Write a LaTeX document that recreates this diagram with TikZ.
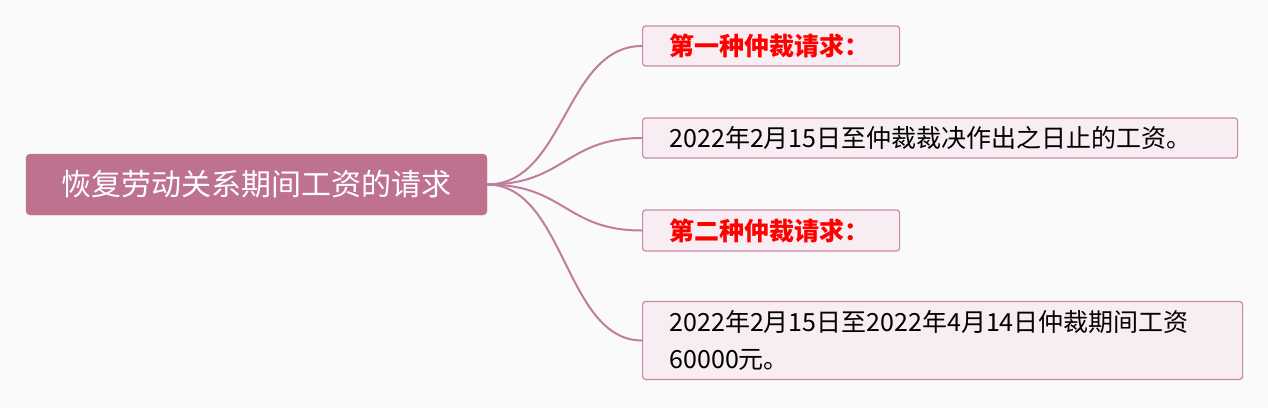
\documentclass[tikz,border=0pt]{standalone}
\usepackage{fontspec}
\usetikzlibrary{calc}
\newfontfamily\cjk{Noto Sans CJK SC}
\definecolor{bgc}{HTML}{FAFAFA}
\definecolor{rootfill}{HTML}{BF7190}
\definecolor{boxfill}{HTML}{F7EDF2}
\definecolor{boxline}{HTML}{C98AA8}
\definecolor{linkc}{HTML}{C27C9C}
\definecolor{redt}{HTML}{FF0000}
\tikzset{
  rootbox/.style={draw=rootfill!90!white, fill=rootfill, rounded corners=4pt, minimum width=461pt, minimum height=61pt, inner sep=0pt, font=\cjk\fontsize{30}{34}\selectfont, text=white},
  leaf/.style={draw=boxline, line width=1.2pt, fill=boxfill, rounded corners=3pt, anchor=west, inner xsep=27pt, inner ysep=0pt, align=left, font=\cjk\fontsize{25}{37}\selectfont},
  redtitle/.style={leaf, text=redt, font=\cjk\bfseries\fontsize{25}{37}\selectfont},
  link/.style={draw=linkc, line width=2pt}
}
\begin{document}
\begin{tikzpicture}[x=1pt,y=-1pt]
\fill[bgc] (0,0) rectangle (1268,408);
\useasboundingbox (0,0) rectangle (1268,408);
\node[rootbox] (root) at (256.5,184.5) {恢复劳动关系期间工资的请求};
\node[redtitle, minimum width=257pt, minimum height=40pt, text width=203pt] (a) at (642,46) {第一种仲裁请求：};
\node[leaf, minimum width=595pt, minimum height=40pt, text width=541pt] (b) at (642,138) {2022年2月15日至仲裁裁决作出之日止的工资。};
\node[redtitle, minimum width=257pt, minimum height=41pt, text width=203pt] (c) at (642,230.5) {第二种仲裁请求：};
\node[leaf, minimum width=600pt, minimum height=78pt, text width=546pt] (d) at (642,340.5) {2022年2月15日至2022年4月14日仲裁期间工资\\60000元。};
\coordinate (mx) at (565,0);
\foreach \t in {a,b,c,d}{
  \draw[link] (root.east) .. controls (mx |- root.east) and (mx |- \t.west) .. (\t.west);
}
\end{tikzpicture}
\end{document}
